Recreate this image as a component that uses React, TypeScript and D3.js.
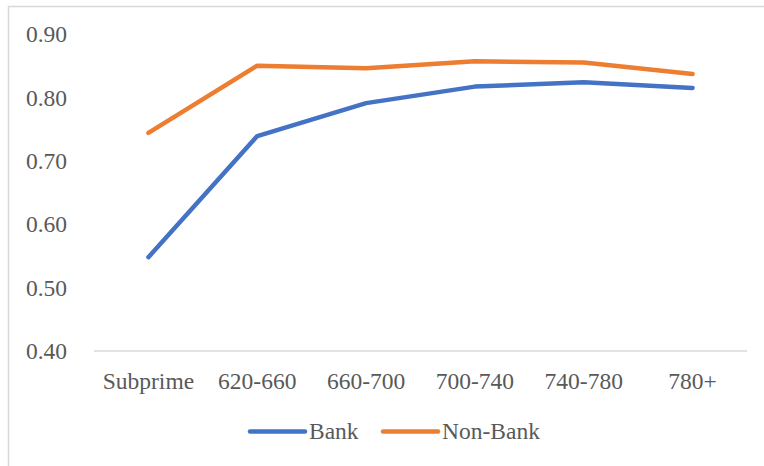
import React from "react";
import * as d3 from "d3";

const categories = ["Subprime", "620-660", "660-700", "700-740", "740-780", "780+"];
const bankValues = [0.548, 0.739, 0.791, 0.817, 0.824, 0.815];
const nonBankValues = [0.744, 0.850, 0.846, 0.857, 0.855, 0.837];
const yTicks = [0.4, 0.5, 0.6, 0.7, 0.8, 0.9];
const seriesNames = ["Bank", "Non-Bank"];
const seriesColors = ["#4472C4", "#ED7D31"];

const textStyle = { fontFamily: "Liberation Serif", fontSize: "23.5px" };

export default function App() {
  const W = 764, H = 466;
  const left = 94, right = 747, top = 34, bottom = 351;
  const x = d3.scaleBand<string>().domain(categories).range([left, right]);
  const y = d3.scaleLinear().domain([0.4, 0.9]).range([bottom, top]);
  const line = d3
    .line<number>()
    .x((_, i) => (x(categories[i]) as number) + x.bandwidth() / 2)
    .y((d) => y(d));
  const series = [bankValues, nonBankValues];
  const legendItems = [
    { lx: 250, tx: 309 },
    { lx: 383, tx: 442 },
  ];
  return (
    <svg width={W} height={H} style={{ position: "absolute", left: 0, top: 0, background: "#fff" }}>
      <rect x={8.5} y={6.5} width={W + 10} height={H + 10} fill="#fff" stroke="#D9D9D9" strokeWidth={1.5} />
      <line x1={left} x2={right} y1={y(0.4)} y2={y(0.4)} stroke="#D9D9D9" strokeWidth={1.5} />
      {yTicks.map((t) => (
        <text key={t} x={67} y={y(t)} dy="0.35em" textAnchor="end" style={textStyle} fill="#595959">
          {t.toFixed(2)}
        </text>
      ))}
      {categories.map((c) => (
        <text
          key={c}
          x={(x(c) as number) + x.bandwidth() / 2}
          y={381}
          dy="0.35em"
          textAnchor="middle"
          style={textStyle}
          fill="#595959"
        >
          {c}
        </text>
      ))}
      {series.map((s, i) => (
        <path
          key={i}
          d={line(s) || ""}
          fill="none"
          stroke={seriesColors[i]}
          strokeWidth={4.5}
          strokeLinecap="round"
          strokeLinejoin="round"
        />
      ))}
      {seriesNames.map((n, i) => (
        <g key={n}>
          <line
            x1={legendItems[i].lx}
            x2={legendItems[i].lx + 55}
            y1={431.5}
            y2={431.5}
            stroke={seriesColors[i]}
            strokeWidth={4.5}
            strokeLinecap="round"
          />
          <text x={legendItems[i].tx} y={431} dy="0.35em" style={textStyle} fill="#595959">
            {n}
          </text>
        </g>
      ))}
    </svg>
  );
}
